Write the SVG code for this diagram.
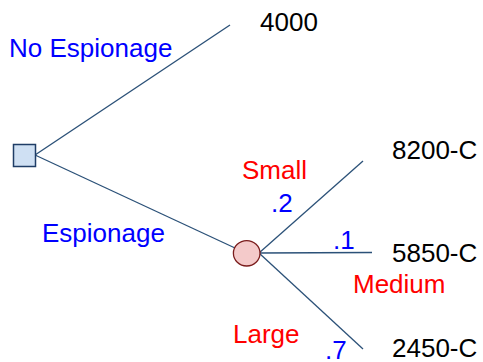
<svg xmlns="http://www.w3.org/2000/svg" width="483" height="362" viewBox="0 0 483 362">
  <style>
    text { font-family: "Liberation Sans", Arial, sans-serif; font-size: 26px; }
    .outcome { fill: #000000; }
    .branch { fill: #0000ff; }
    .chance { fill: #ff0000; }
    .edge { stroke: #2b5178; stroke-width: 1.3; fill: none; }
  </style>
  <rect width="483" height="362" fill="#ffffff"/>

  <!-- connectors -->
  <g id="connectors">
    <line class="edge" x1="35" y1="155" x2="230" y2="25"/>
    <line class="edge" x1="35" y1="155" x2="235" y2="248"/>
    <line class="edge" x1="259" y1="253" x2="363" y2="161"/>
    <line class="edge" x1="259" y1="253" x2="372" y2="252.5"/>
    <line class="edge" x1="259" y1="253" x2="363" y2="349"/>
  </g>

  <!-- decision node -->
  <g id="decision">
    <rect x="13.5" y="144.5" width="22" height="22" fill="#cfe0f3" stroke="#1f3d66" stroke-width="1.5"/>
  </g>

  <!-- chance node -->
  <g id="chance">
    <ellipse cx="246.7" cy="253.3" rx="13.3" ry="12.7" fill="#f4caca" stroke="#7a1c1c" stroke-width="1.3"/>
  </g>

  <!-- branch labels -->
  <g id="label-no-espionage"><text class="branch" x="9" y="57">No Espionage</text></g>
  <g id="label-espionage"><text class="branch" x="42" y="242">Espionage</text></g>
  <g id="label-small"><text class="chance" x="242" y="179">Small</text></g>
  <g id="prob-small"><text class="branch" x="271" y="212">.2</text></g>
  <g id="prob-medium"><text class="branch" x="333" y="249">.1</text></g>
  <g id="label-medium"><text class="chance" x="353" y="293">Medium</text></g>
  <g id="label-large"><text class="chance" x="233" y="343">Large</text></g>
  <g id="prob-large"><text class="branch" x="325" y="359">.7</text></g>

  <!-- outcomes -->
  <g id="out-4000"><text class="outcome" x="260" y="31">4000</text></g>
  <g id="out-8200"><text class="outcome" x="392" y="159">8200-C</text></g>
  <g id="out-5850"><text class="outcome" x="392" y="262">5850-C</text></g>
  <g id="out-2450"><text class="outcome" x="392" y="357">2450-C</text></g>
</svg>
